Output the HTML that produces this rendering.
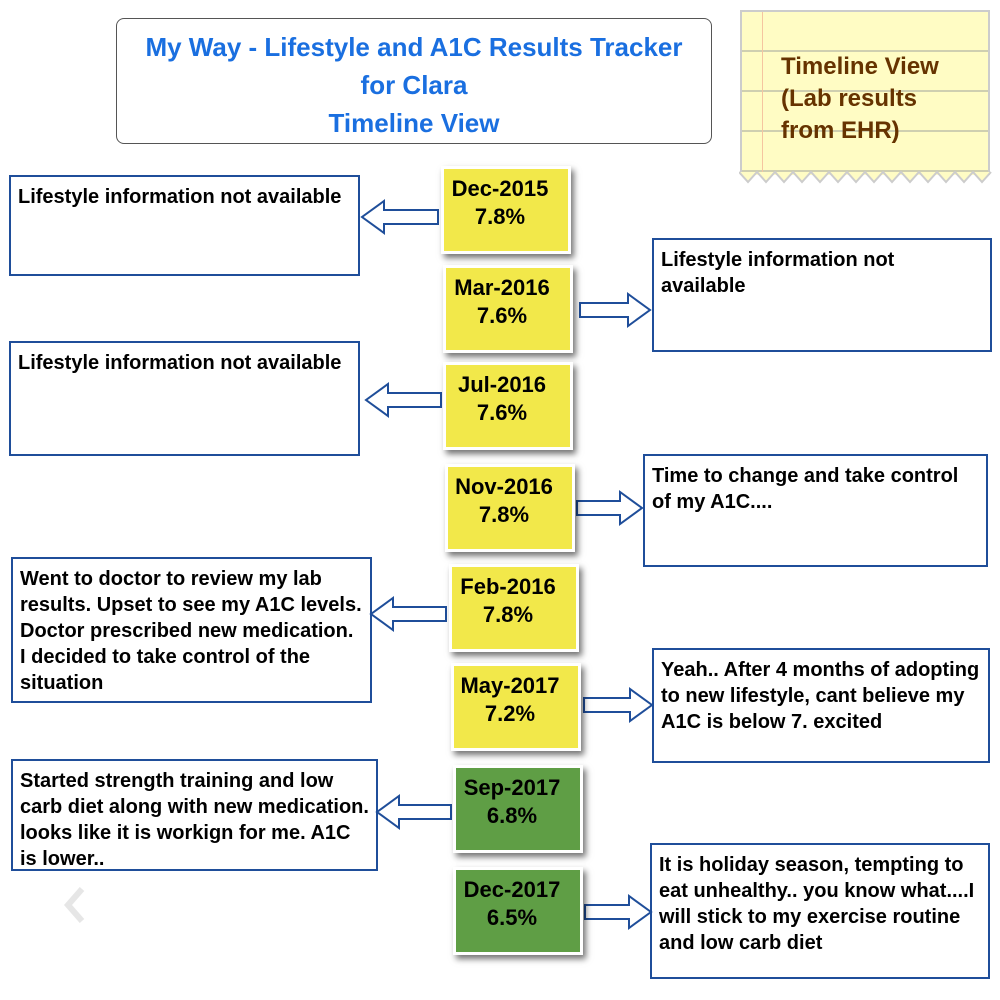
<!DOCTYPE html>
<html><head><meta charset="utf-8"><style>
body{margin:0;width:1000px;height:1000px;background:#fff;position:relative;overflow:hidden;font-family:"Liberation Sans",Arial,sans-serif}
.abs{position:absolute;box-sizing:border-box}
.title{left:116px;top:18px;width:596px;height:126px;border:1.5px solid #555;border-radius:8px;color:#1a6fe0;font-weight:bold;font-size:26px;text-align:center;line-height:38px;padding-top:9px;white-space:nowrap}
.note{left:740px;top:10px;width:250px;height:165px;background:#fffcc4;border:2px solid #ccc;border-bottom:none;
background-image:repeating-linear-gradient(#fffcc4 0,#fffcc4 38px,#cfcfb0 38px,#cfcfb0 40px);background-position:0 0}
.note .margin{position:absolute;left:20px;top:0;bottom:0;width:1px;background:#f5c5a0}
.note .txt{position:absolute;left:39px;top:39px;color:#663300;font-weight:bold;font-size:24px;line-height:32px;white-space:nowrap}
.date{width:130px;height:88px;border:3px solid #fff;box-shadow:3px 4px 6px rgba(0,0,0,.55);text-align:center;font-weight:bold;font-size:22px;line-height:28px;padding-top:6px;padding-right:12px;color:#000}
.tb{border:2px solid #1f4e9a;background:#fff;font-weight:bold;font-size:20px;line-height:26px;padding:7px 7px;color:#000}
</style></head><body>
<div class="abs title">My Way - Lifestyle and A1C Results Tracker<br>for Clara<br>Timeline View</div>
<div class="abs note"><div class="margin"></div><div class="txt">Timeline View<br>(Lab results<br>from EHR)</div></div>
<svg class="abs" style="left:739px;top:170px" width="254" height="16"><polyline id="zz" fill="#fffcc4" stroke="#ccc" stroke-width="2"/></svg>
<svg class="abs" style="left:60px;top:885px" width="30" height="40"><polyline points="22,4 8,20 22,36" fill="none" stroke="#e6e6e6" stroke-width="6"/></svg>

<div class="abs tb" style="left:9px;top:175px;width:351px;height:101px">Lifestyle information not available</div>
<div class="abs tb" style="left:652px;top:238px;width:340px;height:114px">Lifestyle information not available</div>
<div class="abs tb" style="left:9px;top:341px;width:351px;height:115px">Lifestyle information not available</div>
<div class="abs tb" style="left:643px;top:454px;width:345px;height:113px">Time to change and take control of my A1C....</div>
<div class="abs tb" style="left:11px;top:557px;width:361px;height:146px;padding-top:7px">Went to doctor to review my lab results. Upset to see my A1C levels. Doctor prescribed new medication. I decided to take control of the situation</div>
<div class="abs tb" style="left:652px;top:648px;width:338px;height:115px">Yeah.. After 4 months of adopting to new lifestyle, cant believe my A1C is below 7. excited</div>
<div class="abs tb" style="left:11px;top:759px;width:367px;height:112px">Started strength training and low carb diet along with new medication. looks like it is workign for me. A1C is lower..</div>
<div class="abs tb" style="left:650px;top:843px;width:340px;height:136px">It is holiday season, tempting to eat unhealthy.. you know what....I will stick to my exercise routine and low carb diet</div>

<svg class="abs" id="arrows" style="left:0;top:0" width="1000" height="1000"></svg>
<div id="boxes"></div>
<script>
const dates=["Dec-2015","Mar-2016","Jul-2016","Nov-2016","Feb-2016","May-2017","Sep-2017","Dec-2017"];
const a1c=[7.8,7.6,7.6,7.8,7.8,7.2,6.8,6.5];
const boxLeft=[441,443,443,445,449,451,453,453];
const boxTop=[166,265,362,464,564,663,765,867];
const arrows=[[438,362,217],[580,650,310],[441,366,400],[577,642,508],[446,371,614],[584,652,705],[451,377,812],[585,651,912]];
const bx=document.getElementById('boxes');
dates.forEach((d,i)=>{
 const el=document.createElement('div');
 el.className='abs date';
 el.style.left=boxLeft[i]+'px';el.style.top=boxTop[i]+'px';
 el.style.background=a1c[i]<7?'#5f9e45':'#f2e84a';
 el.innerHTML=d+'<br>'+a1c[i].toFixed(1)+'%';
 
 
 bx.appendChild(el);
});
const sv=document.getElementById('arrows');
arrows.forEach((a,i)=>{
 const [x0,x1,y]=a;const dir=x1>x0?1:-1;const hx=x1-dir*22;
 const p=document.createElementNS('http://www.w3.org/2000/svg','polygon');
 p.setAttribute('points',[[x0,y-7],[hx,y-7],[hx,y-16],[x1,y],[hx,y+16],[hx,y+7],[x0,y+7]].map(q=>q.join(',')).join(' '));
 p.setAttribute('fill','#fff');p.setAttribute('stroke','#1f4e9a');p.setAttribute('stroke-width','2');
 
 
 sv.appendChild(p);
});
let pts=[];for(let x=0;x<=234;x+=18){pts.push(x+',2');pts.push((x+9)+',12');}
pts.push('252,2');
document.getElementById('zz').setAttribute('points',pts.join(' '));
</script>
</body></html>
